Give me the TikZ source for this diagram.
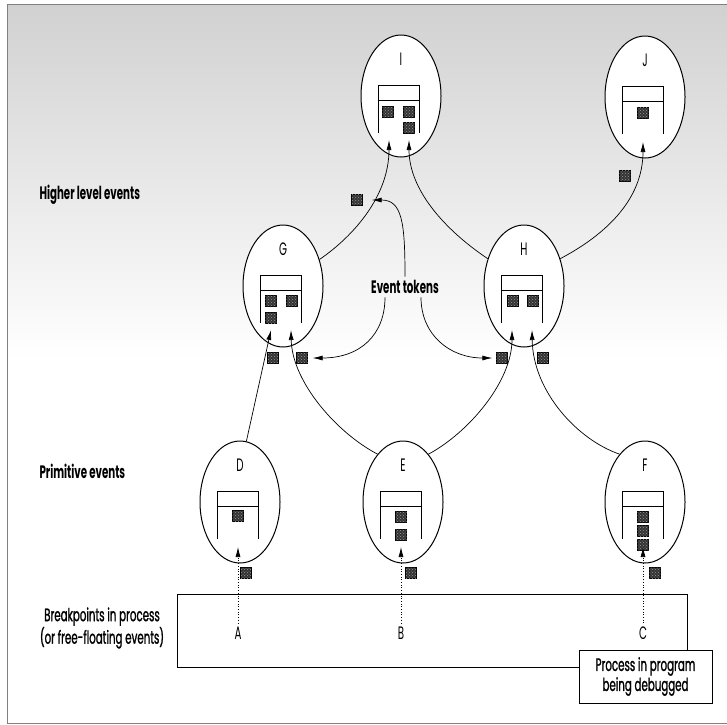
\documentclass[tikz,border=0pt]{standalone}
\usepackage{fontspec}
\setmainfont{Poppins}[FakeStretch=0.57]
\newfontfamily\medfont{Poppins}[FakeStretch=0.57,FakeBold=1.2]
\usetikzlibrary{shapes.geometric,arrows.meta,calc,patterns}

\begin{document}
\begin{tikzpicture}[x=1pt,y=-1pt,
		ev/.style={ellipse,draw,line width=1pt,fill=white,minimum width=80pt,minimum height=122pt,inner sep=0pt},
		tok/.style={draw=black,fill=black!80,minimum size=11pt,inner sep=0pt,postaction={pattern=crosshatch dots,pattern color=black!40}},
		link/.style={line width=0.7pt,-{Latex[length=10pt,width=5pt]}},
		lbl/.style={font=\fontsize{18}{20}\selectfont},
		med/.style={font=\medfont\fontsize{18}{20}\selectfont},
		head/.style={font=\fontsize{18}{20}\selectfont\bfseries,anchor=west}]
		\useasboundingbox (0,0) rectangle (727,724);
		\fill[top color=black!18,bottom color=white] (7,5) rectangle (727,360);
		\draw[gray,line width=0.5pt] (727,4) -- (7,4) -- (7,723) -- (727,723);
		
		\foreach \n/\x/\y in {I/401/96, J/645/97, G/283/286, H/524/286, D/240/502, E/403/502, F/645/502}{
			\node[ev] (\n) at (\x,\y) {};
			\node[lbl] (\n-name) at (\x,\y-37) {\n};
			\draw[line width=0.7pt] (\x-22.5,\y+37) -- (\x-22.5,\y-11) -- (\x+18.5,\y-11) -- (\x+18.5,\y+37);
			\draw[line width=0.7pt] (\x-22.5,\y+4) -- (\x+18.5,\y+4);
			\coordinate (\n-tip) at (\x-2,\y+45);
			\coordinate (\n-l) at (\x-12,\y+44);
			\coordinate (\n-r) at (\x+8,\y+44);
		}
		
		\foreach \p [count=\k] in {(388,112),(409,112),(409,128),(643,113),(271,301),(292,301),(271,318),(513,301),(533,301),(238,516),(401,517),(401,535),(643,517),(643,531),(643,545)}
			\node[tok] (in\k) at \p {};
		
		\node[tok] (tI) at (357,200) {};
		\node[tok] (tJ) at (625,176) {};
		\node[tok] (tG1) at (273,358) {};
		\node[tok] (tG2) at (302,358) {};
		\node[tok] (tH1) at (502,358) {};
		\node[tok] (tH2) at (543,358) {};
		\node[tok] (tD) at (246,573) {};
		\node[tok] (tE) at (411,573) {};
		\node[tok] (tF) at (655,573) {};
		
		\draw[link] (D.84) -- (G-l);
		\draw[link] (E.118) .. controls (337,433) and (292,382) .. (G-r);
		\draw[link] (E.62) .. controls (468,433) and (512,382) .. (H-l);
		\draw[link] (F.118) .. controls (578,440) and (533,392) .. (H-r);
		\draw[link] (G.36) .. controls (355,235) and (389,195) .. (I-l);
		\draw[link] (H.143) .. controls (445,230) and (409,190) .. (I-r);
		\draw[link] (H.37) .. controls (605,235) and (643,200) .. (J-tip);
		
		\node[lbl,font=\fontsize{18}{20}\selectfont\bfseries] (ET) at (405,287) {Event tokens};
		\draw[link,shorten >=9pt] (ET.north) .. controls (405,222) and (402,200) .. (tI.east);
		\draw[link,shorten >=5pt] ($(ET.south)+(-20,0)$) .. controls (385,335) and (360,358) .. (tG2.east);
		\draw[link,shorten >=4pt] ($(ET.south)+(16,0)$) .. controls (421,335) and (450,358) .. (tH1.west);
		
		\node[head] (hi) at (36,195) {Higher level events};
		\node[head] (prim) at (36,471) {Primitive events};
		
		\node[draw,line width=0.7pt,minimum width=510pt,minimum height=73pt] (proc) at (432,630.5) {};
		\node[lbl] (A) at (238,633) {A};
		\node[lbl] (B) at (401,633) {B};
		\node[lbl] (C) at (643,633) {C};
		\foreach \a/\b in {A/D,B/E,C/F}
			\draw[link,dotted] (\a) -- (\b-tip);
		
		\node[med,align=center] (bp) at (102,628) {Breakpoints in process\\(or free-floating events)};
		\node[med,align=center,draw,fill=white,line width=0.6pt,minimum width=133pt,minimum height=53pt] (dbg) at (645.5,676.5) {Process in program\\being debugged};
	\end{tikzpicture}
\end{document}
